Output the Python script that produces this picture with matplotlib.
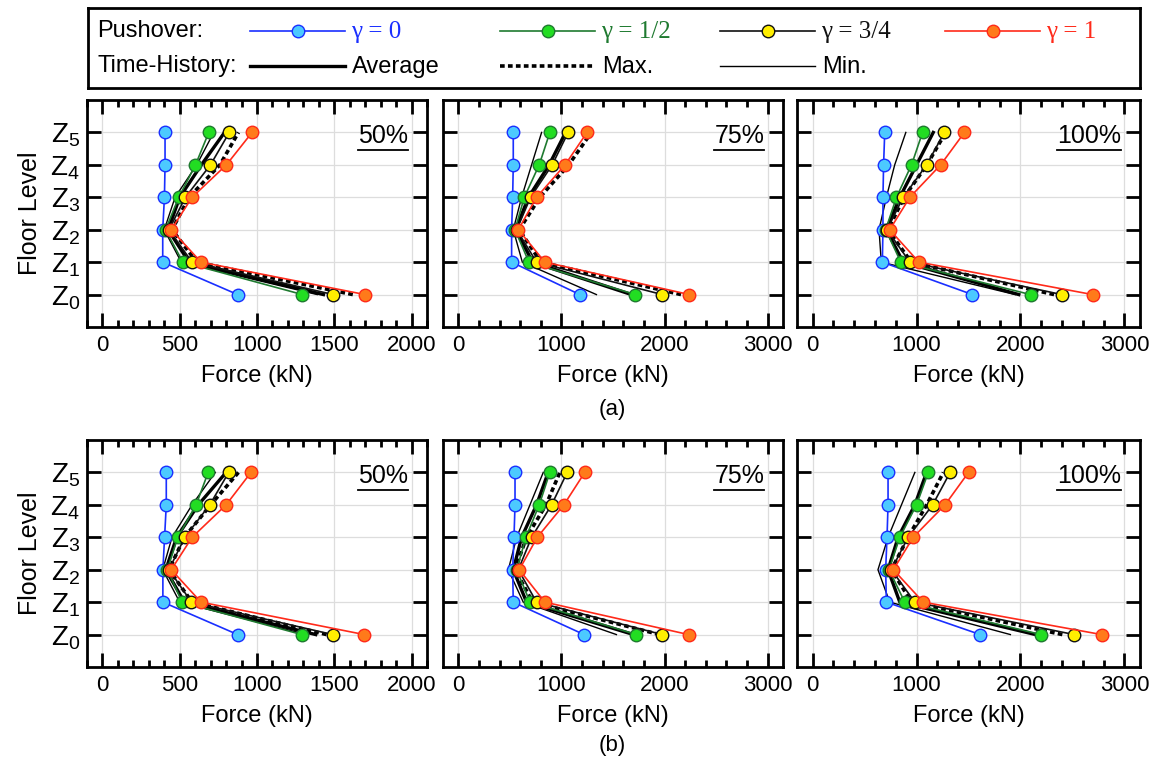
import matplotlib
matplotlib.use("Agg")
import matplotlib.pyplot as plt
from matplotlib.ticker import MultipleLocator

plt.rcParams['font.family'] = ['Liberation Sans', 'DejaVu Sans']
plt.rcParams['mathtext.fontset'] = 'custom'
plt.rcParams['mathtext.rm'] = 'Liberation Sans'
plt.rcParams['mathtext.it'] = 'Liberation Sans'

levels = [0, 1, 2, 3, 4, 5]
level_labels = [r'$\mathregular{Z_{%d}}$' % i for i in levels]
gamma_labels = ['γ = 0', 'γ = 1/2', 'γ = 3/4', 'γ = 1']

# pushover rows: gamma = 0, 1/2, 3/4, 1 ; values Z0..Z5 (kN)
a50_push = [[875, 390, 390, 401, 405, 405],
            [1294, 520, 408, 494, 602, 688],
            [1494, 580, 430, 537, 699, 821],
            [1699, 638, 445, 580, 802, 968]]
a50_avg = [1430, 560, 425, 500, 640, 790]
a50_max = [1620, 610, 450, 560, 760, 880]
a50_min = [1390, 510, 400, 470, 610, 720]

a75_push = [[1178, 516, 516, 526, 532, 532],
            [1717, 684, 549, 639, 784, 887],
            [1978, 758, 565, 700, 910, 1065],
            [2242, 839, 581, 758, 1035, 1248]]
a75_avg = [1680, 720, 555, 680, 880, 1040]
a75_max = [2160, 800, 590, 790, 1070, 1290]
a75_min = [1339, 620, 532, 613, 710, 807]

a100_push = [[1538, 671, 677, 677, 683, 694],
             [2097, 849, 703, 807, 952, 1058],
             [2397, 936, 716, 871, 1097, 1268],
             [2694, 1023, 742, 936, 1232, 1461]]
a100_avg = [1984, 871, 710, 839, 1000, 1161]
a100_max = [2323, 950, 725, 880, 1100, 1280]
a100_min = [1950, 661, 639, 710, 790, 897]

b50_push = [[875, 391, 391, 402, 413, 413],
            [1290, 516, 419, 488, 606, 684],
            [1490, 576, 430, 533, 694, 817],
            [1694, 638, 445, 580, 800, 961]]
b50_avg = [1380, 530, 410, 480, 620, 800]
b50_max = [1450, 580, 430, 530, 700, 880]
b50_min = [1320, 500, 390, 450, 580, 730]

b75_push = [[1219, 532, 526, 539, 549, 549],
            [1726, 694, 565, 655, 784, 887],
            [1978, 758, 581, 710, 904, 1055],
            [2233, 839, 590, 765, 1023, 1226]]
b75_avg = [1700, 661, 532, 613, 758, 871]
b75_max = [1952, 720, 550, 660, 850, 984]
b75_min = [1533, 629, 484, 565, 694, 823]

b100_push = [[1613, 710, 703, 716, 726, 726],
             [2200, 887, 735, 839, 1000, 1113],
             [2516, 984, 758, 919, 1155, 1323],
             [2781, 1065, 777, 968, 1274, 1500]]
b100_avg = [2145, 839, 726, 823, 984, 1097]
b100_max = [2403, 952, 758, 919, 1097, 1258]
b100_min = [1903, 742, 629, 726, 855, 984]

line_colors = ['#1a2fff', '#1f7a30', '#111111', '#ff2a1a']
face_colors = ['#4cc9ff', '#22dd22', '#ffee00', '#ff7a1a']
edge_colors = ['#1a2fff', '#1f7a30', '#111111', '#ff2a1a']
text_colors = ['#1a2fff', '#1f7a30', '#111111', '#ff2a1a']

dotted = (0, (1.3, 0.9))

W, H = 1160, 767
fig = plt.figure(figsize=(W / 100, H / 100), dpi=100)

col_left = [87, 443, 797]
col_width = [340, 340, 343]
row_top = [100, 440]
ax_h = 227

panels = [
    (0, 0, '50%', a50_push, a50_avg, a50_max, a50_min),
    (0, 1, '75%', a75_push, a75_avg, a75_max, a75_min),
    (0, 2, '100%', a100_push, a100_avg, a100_max, a100_min),
    (1, 0, '50%', b50_push, b50_avg, b50_max, b50_min),
    (1, 1, '75%', b75_push, b75_avg, b75_max, b75_min),
    (1, 2, '100%', b100_push, b100_avg, b100_max, b100_min),
]

pct_texts = []
for row, col, pct, push, avg, mx, mn in panels:
    x0 = col_left[col] / W
    y0 = 1 - (row_top[row] + ax_h) / H
    ax = fig.add_axes([x0, y0, col_width[col] / W, ax_h / H])

    # time-history
    ax.plot(mn, levels, color='black', lw=1.0, zorder=2)
    ax.plot(avg, levels, color='black', lw=2.4, zorder=2)
    ax.plot(mx, levels, color='black', lw=2.6, ls=dotted, zorder=2)

    # pushover
    for i in range(4):
        ax.plot(push[i], levels, color=line_colors[i], lw=1.2, marker='o',
                ms=9, mfc=face_colors[i], mec=edge_colors[i], mew=1.0, zorder=3)

    if col == 0:
        ax.set_xlim(-100, 2100)
        ax.xaxis.set_major_locator(MultipleLocator(500))
        ax.xaxis.set_minor_locator(MultipleLocator(100))
        ax.set_ylabel('Floor Level', fontsize=18, labelpad=6)
    else:
        ax.set_xlim(-150, 3150)
        ax.xaxis.set_major_locator(MultipleLocator(1000))
        ax.xaxis.set_minor_locator(MultipleLocator(200))
    ax.set_ylim(-1, 6)
    ax.set_yticks(levels)
    ax.set_yticklabels(level_labels if col == 0 else [])
    ax.grid(True, which='major', color='#dddddd', lw=0.9, zorder=0)
    ax.set_axisbelow(True)
    ax.tick_params(which='both', direction='in', top=True, right=True, width=2)
    ax.tick_params(which='major', length=10, labelsize=16, pad=6)
    ax.tick_params(axis='y', which='major', labelsize=20, pad=5)
    ax.tick_params(which='minor', length=5)
    for s in ax.spines.values():
        s.set_linewidth(2)
    ax.set_xlabel('Force (kN)', fontsize=17, labelpad=6)
    t = ax.text(0.945, 0.84, pct, transform=ax.transAxes, ha='right',
                va='center', fontsize=18)
    pct_texts.append((ax, t))

fig.text(612 / W, 1 - 410 / H, '(a)', ha='center', va='center', fontsize=16)
fig.text(612 / W, 1 - 745 / H, '(b)', ha='center', va='center', fontsize=16)

# legend box
lx0, lx1, ly0, ly1 = 88, 1140, 8, 88
lax = fig.add_axes([lx0 / W, 1 - ly1 / H, (lx1 - lx0) / W, (ly1 - ly0) / H])
lax.set_xlim(lx0, lx1)
lax.set_ylim(ly1, ly0)
lax.set_xticks([])
lax.set_yticks([])
for s in lax.spines.values():
    s.set_linewidth(2)

row1, row2 = 31, 66
seg_start = [250, 500, 720, 945]
seg_len = 95
lax.text(97, row1, 'Pushover:', ha='left', va='center', fontsize=17)
lax.text(97, row2, 'Time-History:', ha='left', va='center', fontsize=17)
for i in range(4):
    xs = seg_start[i]
    lax.plot([xs, xs + seg_len], [row1, row1], color=line_colors[i], lw=1.2)
    lax.plot([xs + seg_len / 2], [row1], marker='o', ms=9, mfc=face_colors[i],
             mec=edge_colors[i], mew=1.0)
    lax.text(xs + seg_len + 6, row1 + 1, gamma_labels[i], ha='left', va='center',
             fontsize=18, color=text_colors[i], family=['Liberation Serif', 'DejaVu Serif'])

th_styles = [dict(lw=2.4, ls='-'), dict(lw=2.6, ls=dotted), dict(lw=1.0, ls='-')]
th_labels = ['Average', 'Max.', 'Min.']
for i in range(3):
    xs = seg_start[i]
    lax.plot([xs, xs + seg_len], [row2, row2], color='black', **th_styles[i])
    lax.text(xs + seg_len + 7, row2 + 1, th_labels[i], ha='left', va='center', fontsize=17)

# underline the percentage labels
fig.canvas.draw()
renderer = fig.canvas.get_renderer()
inv = fig.transFigure.inverted()
for ax, t in pct_texts:
    bb = t.get_window_extent(renderer)
    (fx0, fy0), (fx1, fy1) = inv.transform([(bb.x0, bb.y0 - 2), (bb.x1, bb.y0 - 2)])
    fig.add_artist(plt.Line2D([fx0, fx1], [fy0, fy1], color='black', lw=1.3,
                              transform=fig.transFigure))

fig.savefig('out.png', dpi=100)
